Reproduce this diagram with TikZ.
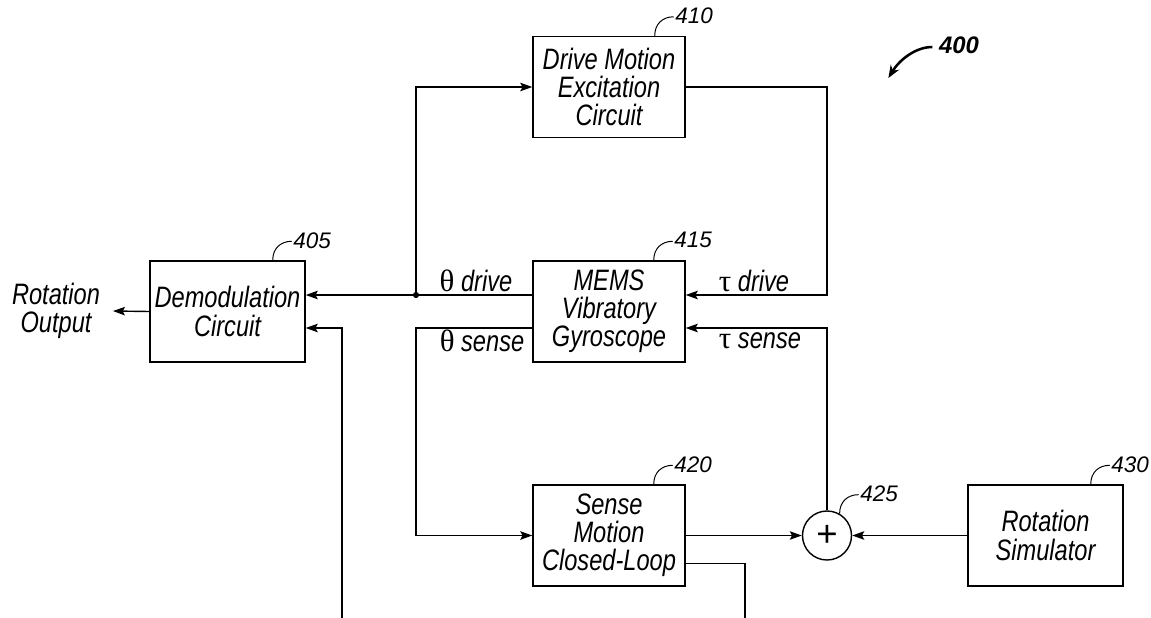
\documentclass[tikz,border=0pt]{standalone}
\usepackage{fontspec}
\setmainfont{Liberation Sans}[FakeStretch=0.8]
\newfontfamily\numfont{Liberation Sans}
\newfontfamily\grkfont{Liberation Serif}
\usetikzlibrary{arrows.meta, positioning, calc}
\newcommand{\gk}[1]{{\grkfont\upshape\fontsize{22}{20}\selectfont #1}}
\newcommand{\partref}[3]{% #1=start on outline, #2=node name, #3=number
  \draw[lead] (#1) .. controls ($(#1)+(0,-12)$) and ($(#1)+(8,-19)$) .. ($(#1)+(19,-19)$);
  \node[refnum] (#2) at ($(#1)+(19,-20)$) {#3};}

\begin{document}
\begin{tikzpicture}[
  x=0.025cm, y=-0.025cm,
  >={Stealth[length=8.5pt, width=6pt, inset=1.5pt]},
  txt/.style={font=\fontsize{21}{20}\selectfont\itshape},
  block/.style={txt, draw, line width=1pt, minimum width=3.8cm, minimum height=2.525cm,
    align=center, inner sep=2pt},
  sumnode/.style={circle, draw, line width=1pt, minimum size=1.225cm, inner sep=0pt,
    font=\numfont\fontsize{26}{26}\selectfont},
  refnum/.style={font=\numfont\fontsize{16}{16}\selectfont\itshape, anchor=west, inner sep=1pt},
  sig/.style={txt, inner sep=1pt},
  link/.style={line width=1pt},
  lead/.style={line width=0.7pt},
]
\useasboundingbox (0,0) rectangle (1151,618);

% ---------- BLOCKS ----------
\node[block, minimum width=3.875cm] (demod) at (227.5,311.5) {Demodulation\\Circuit};
\node[block] (drive) at (609,87) {Drive Motion\\Excitation\\Circuit};
\node[block] (mems) at (609,311.5) {MEMS\\Vibratory\\Gyroscope};
\node[block] (sense) at (609,535.5) {Sense\\Motion\\Closed-Loop};
\node[sumnode] (sum) at (827,535.5) {+};
\node[block, minimum width=3.875cm] (rotsim) at (1045.5,535.5) {Rotation\\Simulator};
\node[txt, align=center, inner xsep=9pt] (rout) at (56,311) {Rotation\\Output};

% ---------- SIGNAL LABELS ----------
\node[sig] (thdrive) at (476,281) {\gk{θ} drive};
\node[sig] (thsense) at (482,341) {\gk{θ} sense};
\node[sig] (tadrive) at (754,281) {\gk{τ} drive};
\node[sig] (tasense) at (760,341) {\gk{τ} sense};

% ---------- CONNECTORS ----------
\coordinate (j) at (416,295);
\coordinate (tdr) at (827,295);
\coordinate (tse) at (827,328);
\coordinate (dout) at (342,618);
\coordinate (sout) at (745,618);

\draw[link] (mems.west |- j) -- (j);
\draw[link, line width=1.4pt, ->] (j) -- (demod.east |- j);
\fill (j) circle (2.2pt);
\draw[link, ->] (j) |- (drive.west);
\draw[link, ->] (drive.east) -| (tdr) -- (mems.east |- tdr);
\draw[link, ->] (sum.north) -- (tse) -- (mems.east |- tse);
\draw[link, ->] (mems.west |- tse) -| (j |- sense.west) -- (sense.west);
\draw[link, ->] (sense.east) -- (sum.west);
\draw[link, ->] (rotsim.west) -- (sum.east);
\draw[link] ($(sense.east)+(0,28)$) -| (sout);
\draw[link, ->] (dout) |- (demod.east |- tse);
\draw[link, ->] (demod.west) -- (rout.east);

% ---------- REFERENCE NUMBERS ----------
\partref{$(demod.north east)+(-33,0)$}{n405}{405}
\partref{$(drive.north east)+(-31,0)$}{n410}{410}
\partref{$(mems.north east)+(-32,0)$}{n415}{415}
\partref{$(sense.north east)+(-32,0)$}{n420}{420}
\partref{sum.60}{n425}{425}
\partref{$(rotsim.north east)+(-33,0)$}{n430}{430}

\node[font=\numfont\fontsize{17}{17}\selectfont\bfseries\itshape, inner sep=1pt] (n400) at (959,45) {400};
\draw[line width=1.8pt, -{Stealth[length=9pt, width=7pt]}]
  ($(n400.west)+(-5,2)$) .. controls ($(n400.west)+(-22,2)$) and ($(n400.west)+(-38,15)$)
  .. ($(n400.west)+(-49,33)$);

\end{tikzpicture}
\end{document}
